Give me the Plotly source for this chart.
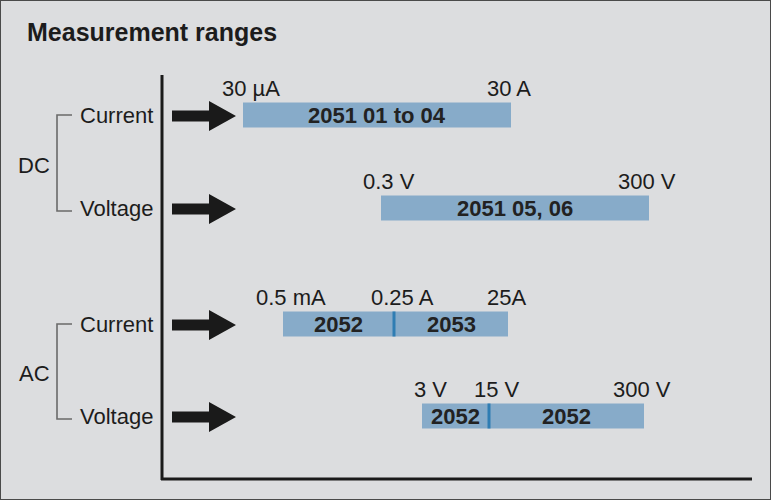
import plotly.graph_objects as go

# ---- data ----
groups = ["DC", "AC"]
row_labels = ["Current", "Voltage", "Current", "Voltage"]
row_group = ["DC", "DC", "AC", "AC"]
# range boundaries on the (schematic) horizontal scale, per row
bounds_dc_current = [243, 511]
bounds_dc_voltage = [381, 649]
bounds_ac_current = [283, 394, 508]
bounds_ac_voltage = [422, 489, 644]
# labels of the boundaries (range limits)
limits_dc_current = ["30 µA", "30 A"]
limits_dc_voltage = ["0.3 V", "300 V"]
limits_ac_current = ["0.5 mA", "0.25 A", "25A"]
limits_ac_voltage = ["3 V", "15 V", "300 V"]
# instrument names per segment
models_dc_current = ["2051 01 to 04"]
models_dc_voltage = ["2051 05, 06"]
models_ac_current = ["2052", "2053"]
models_ac_voltage = ["2052", "2052"]

all_bounds = [bounds_dc_current, bounds_dc_voltage, bounds_ac_current, bounds_ac_voltage]
all_limits = [limits_dc_current, limits_dc_voltage, limits_ac_current, limits_ac_voltage]
all_models = [models_dc_current, models_dc_voltage, models_ac_current, models_ac_voltage]

# ---- layout constants ----
W, H = 771, 500
row_y = [115, 208, 324, 416]
BAR_H = 25
BG = "#dcdddf"
BAR_C = "#87abc9"
DIV_C = "#2f7db3"
TXT = "#1c1c1c"
FONT = "Liberation Sans, Arial, Helvetica, sans-serif"
FS = 22

fig = go.Figure()
shapes = []
annotations = []

for i, (b, lims, mods) in enumerate(zip(all_bounds, all_limits, all_models)):
    y = row_y[i]
    starts = b[:-1]
    lengths = [b[k + 1] - b[k] for k in range(len(b) - 1)]
    fig.add_trace(go.Bar(
        orientation="h", y=[y] * len(starts), x=lengths, base=starts,
        width=BAR_H, marker=dict(color=BAR_C, line=dict(width=0)),
        showlegend=False, hoverinfo="skip",
    ))
    # segment labels
    for k, m in enumerate(mods):
        annotations.append(dict(x=(b[k] + b[k + 1]) / 2, y=y, text=f"<b>{m}</b>",
                                showarrow=False, xanchor="center", yanchor="middle",
                                font=dict(size=FS, color="#222222", family=FONT)))
    # internal dividers
    for xb in b[1:-1]:
        shapes.append(dict(type="line", x0=xb, x1=xb, y0=y - BAR_H / 2, y1=y + BAR_H / 2,
                           line=dict(color=DIV_C, width=3), layer="above"))
    # limit labels
    for k, (xb, lab) in enumerate(zip(b, lims)):
        shift = 8 if k < len(b) - 1 else -2
        annotations.append(dict(x=xb, y=y - 27, text=lab, showarrow=False,
                                xanchor="center", yanchor="middle", xshift=shift,
                                font=dict(size=FS, color=TXT, family=FONT)))
    # arrow
    ay = y + 1
    path = (f"M 172 {ay-5.5} L 209 {ay-5.5} L 209 {ay-15} L 236 {ay} "
            f"L 209 {ay+15} L 209 {ay+5.5} L 172 {ay+5.5} Z")
    shapes.append(dict(type="path", path=path, fillcolor="#1a1a1a",
                       line=dict(width=0), layer="above"))
    # row label
    annotations.append(dict(x=78, y=y, text=row_labels[i], showarrow=False,
                            xanchor="left", yanchor="middle",
                            font=dict(size=FS, color=TXT, family=FONT)))

# group brackets
for g in groups:
    idx = [i for i, rg in enumerate(row_group) if rg == g]
    y0, y1 = row_y[idx[0]], row_y[idx[-1]] + 3
    shapes.append(dict(type="path",
                       path=f"M 72 {y0} L 57 {y0} L 57 {y1} L 72 {y1}",
                       line=dict(color="#6a6a6a", width=1.6)))
    annotations.append(dict(x=34, y=(y0 + y1) / 2 + 2, text=g, showarrow=False,
                            xanchor="center", yanchor="middle",
                            font=dict(size=FS, color=TXT, family=FONT)))

# axes lines
shapes.append(dict(type="line", x0=162, x1=162, y0=75, y1=480,
                   line=dict(color="#1a1a1a", width=3)))
shapes.append(dict(type="line", x0=161, x1=752, y0=479, y1=479,
                   line=dict(color="#1a1a1a", width=3)))
# outer border
shapes.append(dict(type="rect", xref="paper", yref="paper", x0=0, x1=1, y0=0, y1=1,
                   line=dict(color="#4a4a4a", width=2)))

# title
annotations.append(dict(x=25, y=32, text="<b>Measurement ranges</b>", showarrow=False,
                        xanchor="left", yanchor="middle",
                        font=dict(size=25, color=TXT, family=FONT)))

fig.update_layout(
    width=W, height=H,
    margin=dict(l=0, r=0, t=0, b=0),
    paper_bgcolor=BG, plot_bgcolor=BG,
    barmode="overlay",
    xaxis=dict(range=[0, W], visible=False, fixedrange=True),
    yaxis=dict(range=[H, 0], visible=False, fixedrange=True),
    shapes=shapes, annotations=annotations,
)

fig.write_html("out.html", config={"displayModeBar": False},
               post_script="document.body.style.margin='0';document.body.style.overflow='hidden';")
